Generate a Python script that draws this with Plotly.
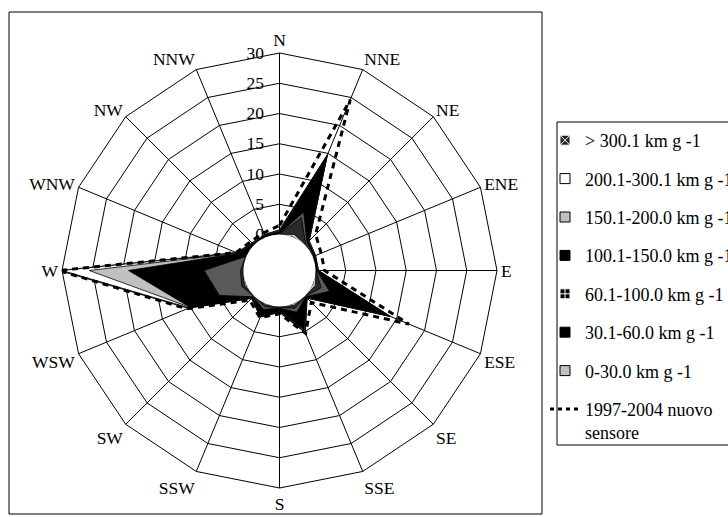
import plotly.graph_objects as go

W, H = 728, 517

directions = ["N", "NNE", "NE", "ENE", "E", "ESE", "SE", "SSE",
              "S", "SSW", "SW", "WSW", "W", "WNW", "NW", "NNW"]
radial_ticks = [0, 5, 10, 15, 20, 25, 30]

# frequency (%) per direction, one list per daily wind-run class (cumulative)
over_300 = [0.8, 14.8, 1.0, 0.5, 0.5, 14.0, 0.5, 5.2, 1.0, 2.4, 0.6, 10.4, 30.5, 1.8, 0.5, 0.5]
run_200_300 = [0.7, 14.7, 1.0, 0.5, 0.5, 13.9, 0.5, 5.1, 0.9, 2.3, 0.5, 10.2, 30.0, 1.7, 0.4, 0.4]
run_150_200 = [0.6, 14.6, 0.9, 0.4, 0.4, 13.8, 0.4, 5.0, 0.8, 2.2, 0.4, 10.0, 25.5, 1.6, 0.3, 0.3]
run_100_150 = [0.5, 14.5, 0.8, 0.4, 0.4, 13.6, 0.4, 4.7, 0.8, 2.2, 0.4, 10.0, 19.0, 1.5, 0.3, 0.3]
run_60_100 = [0.2, 4.5, 0.5, 0.2, 0.2, 3.0, 0.2, 1.5, 0.3, 1.0, 0.2, 4.8, 6.5, 0.1, 0.1, 0.1]
run_30_60 = [0.1, 3.5, 0.2, 0.1, 0.1, 1.5, 0.1, 0.8, 0.2, 0.5, 0.1, 0.8, 0.5, 0.1, 0.1, 0.1]
run_0_30 = [0.05, 0.5, 0.1, 0.05, 0.05, 0.5, 0.05, 0.3, 0.1, 0.2, 0.05, 0.3, 0.2, 0.05, 0.05, 0.05]
sensore_1997_2004 = [1.5, 24.6, 2.5, 1.5, 1.5, 17.2, 1.5, 5.3, 1.2, 2.5, 1.0, 10.6, 30.6, 1.8, 0.8, 0.8]

class_labels = ["> 300.1 km g -1", "200.1-300.1 km g -1", "150.1-200.0 km g -1",
                "100.1-150.0 km g -1", "60.1-100.0 km g -1", "30.1-60.0 km g -1",
                "0-30.0 km g -1"]
sensor_label = "1997-2004 nuovo<br>sensore"

series = [over_300, run_200_300, run_150_200, run_100_150, run_60_100, run_30_60, run_0_30]

# fill style for each class: (fill colour, pattern, legend marker)
styles = [
    ("#111", dict(shape="/", bgcolor="black", fgcolor="white", size=6, solidity=0.3),
     dict(symbol="square-x", color="#222", line=dict(color="white", width=1))),
    ("white", None, dict(symbol="square", color="white", line=dict(color="black", width=1))),
    ("#c0c0c0", None, dict(symbol="square", color="#c0c0c0", line=dict(color="black", width=1))),
    ("black", None, dict(symbol="square", color="black", line=dict(color="black", width=1))),
    ("#5a5a5a", dict(shape="+", bgcolor="black", fgcolor="white", size=8, solidity=0.25),
     dict(symbol="square-cross", color="black", line=dict(color="white", width=1))),
    ("#2a2a2a", dict(shape="|", bgcolor="black", fgcolor="white", size=6, solidity=0.3),
     dict(symbol="square", color="black", line=dict(color="black", width=1))),
    ("#c0c0c0", None, dict(symbol="square", color="#c0c0c0", line=dict(color="black", width=1))),
]

FONT = "Liberation Serif, Times New Roman, serif"

fig = go.Figure()


def closed(values):
    return values + values[:1], directions + directions[:1]


for vals, (fc, pattern, _) in zip(series, styles):
    r, th = closed(vals)
    kw = dict(r=r, theta=th, mode="lines", fill="toself", fillcolor=fc,
              line=dict(color="black", width=0.8), showlegend=False,
              hoverinfo="skip")
    trace = None
    if pattern is not None:
        try:
            trace = go.Scatterpolar(fillpattern=pattern, **kw)
        except ValueError:
            trace = None
    if trace is None:
        trace = go.Scatterpolar(**kw)
    fig.add_trace(trace)

r, th = closed(sensore_1997_2004)
fig.add_trace(go.Scatterpolar(r=r, theta=th, mode="lines",
                              line=dict(color="black", width=3, dash="6px,5px"),
                              showlegend=False, hoverinfo="skip"))

# legend entries
for i, (label, (_, _, mk)) in enumerate(zip(class_labels, styles)):
    fig.add_trace(go.Scatterpolar(r=[None], theta=[None], mode="markers",
                                  marker=dict(size=10, **mk), name=label,
                                  legendgroup=f"g{i}", showlegend=True))
fig.add_trace(go.Scatterpolar(r=[None], theta=[None], mode="lines",
                              line=dict(color="black", width=3, dash="4px,4px"),
                              name=sensor_label, legendgroup="g_s", showlegend=True))

cx, cy, R = 279.5, 270.5, 217.5
hole_r = 36

fig.update_layout(
    width=W, height=H,
    margin=dict(l=0, r=0, t=0, b=0, autoexpand=False),
    paper_bgcolor="white",
    font=dict(family=FONT, size=17.5, color="black"),
    polar=dict(
        domain=dict(x=[(cx - R) / W, (cx + R) / W],
                    y=[(H - cy - R) / H, (H - cy + R) / H]),
        bgcolor="white",
        gridshape="linear",
        hole=hole_r / R,
        angularaxis=dict(direction="clockwise", rotation=90,
                         categoryorder="array", categoryarray=directions,
                         showline=True, linecolor="black", linewidth=1,
                         gridcolor="black", gridwidth=1, ticks="",
                         tickfont=dict(family=FONT, size=17.5, color="black")),
        radialaxis=dict(range=[0, 30], tickvals=radial_ticks, angle=90,
                        side="counterclockwise", tickangle=90,
                        showline=False, ticks="outside", ticklen=9,
                        tickcolor="rgba(0,0,0,0)",
                        gridcolor="black", gridwidth=1,
                        tickfont=dict(family=FONT, size=17.5, color="black")),
    ),
    legend=dict(x=545 / W, y=1 - 122 / H, xanchor="left", yanchor="top",
                bgcolor="rgba(0,0,0,0)", borderwidth=0,
                font=dict(family=FONT, size=18, color="black"),
                tracegroupgap=12, valign="top"),
    shapes=[
        dict(type="circle", xref="paper", yref="paper", layer="above",
             x0=(cx - hole_r) / W, x1=(cx + hole_r) / W,
             y0=(H - cy - hole_r) / H, y1=(H - cy + hole_r) / H,
             fillcolor="white", line=dict(width=0)),
        dict(type="rect", xref="paper", yref="paper", layer="above",
             x0=9 / W, x1=542 / W, y0=1 - 514 / H, y1=1 - 12 / H,
             line=dict(color="black", width=1)),
        dict(type="rect", xref="paper", yref="paper", layer="above",
             x0=557 / W, x1=1.05, y0=1 - 445 / H, y1=1 - 122 / H,
             line=dict(color="black", width=1)),
    ],
)

fig.write_html("out.html")
